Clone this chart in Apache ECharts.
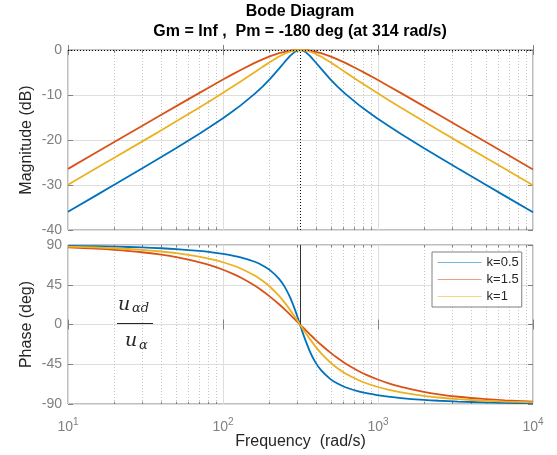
<!DOCTYPE html>
<html><head><meta charset="utf-8">
<script src="https://cdn.jsdelivr.net/npm/echarts@6/dist/echarts.min.js"></script>
<style>html,body{margin:0;padding:0;background:#fff}#c{width:557px;height:455px}</style>
</head><body><div id="c"></div>
<script>
// Frequency samples (rad/s)
const freqs = [10,15,20,30,40,50,70,85,100,115,130,160,180,200,230,250,270,290,305,314,
               323,340,365,394,429,493,548,616,758,857,986,1160,1409,1972,2465,3287,4930,6573,10000];
// Magnitude (dB)
const magK05 = [-35.95,-32.42,-29.91,-26.35,-23.79,-21.79,-18.67,-16.80,-15.16,-13.68,-12.31,-9.75,-8.12,-6.52,-4.15,-2.66,-1.36,-0.42,-0.06,0,
                -0.06,-0.42,-1.36,-2.66,-4.15,-6.52,-8.12,-9.75,-12.31,-13.68,-15.16,-16.80,-18.67,-21.79,-23.79,-26.35,-29.91,-32.42,-36.07];
const magK15 = [-26.42,-22.90,-20.40,-16.88,-14.39,-12.47,-9.58,-7.93,-6.57,-5.42,-4.44,-2.87,-2.07,-1.42,-0.71,-0.39,-0.17,-0.05,-0.01,0,
                -0.01,-0.05,-0.17,-0.39,-0.71,-1.42,-2.07,-2.87,-4.44,-5.42,-6.57,-7.93,-9.58,-12.47,-14.39,-16.88,-20.40,-22.90,-26.54];
const magK1  = [-29.93,-26.41,-23.90,-20.36,-17.83,-15.85,-12.83,-11.04,-9.52,-8.19,-7.00,-4.93,-3.75,-2.72,-1.46,-0.83,-0.38,-0.11,-0.01,0,
                -0.01,-0.11,-0.38,-0.83,-1.46,-2.72,-3.75,-4.93,-7.00,-8.19,-9.52,-11.04,-12.83,-15.85,-17.83,-20.36,-23.90,-26.41,-30.06];
// Phase (deg)
const phaseK05 = [89.09,88.63,88.17,87.24,86.30,85.33,83.31,81.69,79.95,78.06,75.97,71.01,66.88,61.81,51.68,42.60,31.22,17.66,6.64,0,
                  -6.64,-17.66,-31.22,-42.60,-51.68,-61.81,-66.88,-71.01,-75.97,-78.06,-79.95,-81.69,-83.31,-85.33,-86.30,-87.24,-88.17,-88.63,-89.10];
const phaseK15 = [87.26,85.89,84.52,81.77,79.01,76.23,70.62,66.33,62.01,57.60,53.15,44.08,37.98,31.89,22.87,17.04,11.42,6.06,2.22,0,
                  -2.22,-6.06,-11.42,-17.04,-22.87,-31.89,-37.98,-44.08,-53.15,-57.60,-62.01,-66.33,-70.62,-76.23,-79.01,-81.77,-84.52,-85.89,-87.30];
const phaseK1  = [88.17,87.26,86.34,84.49,82.62,80.72,76.80,73.72,70.48,67.07,63.45,55.46,49.51,43.02,32.32,24.70,16.86,9.05,3.33,0,
                  -3.33,-9.05,-16.86,-24.70,-32.32,-43.02,-49.51,-55.46,-63.45,-67.07,-70.48,-73.72,-76.80,-80.72,-82.62,-84.49,-86.34,-87.26,-88.20];
const seriesNames = ['k=0.5','k=1.5','k=1'];
const minorFreqs = [20,30,40,50,60,70,80,90,200,300,400,500,600,700,800,900,2000,3000,4000,5000,6000,7000,8000,9000];
const crossFreq = 314;
const titleLines = ['Bode Diagram','Gm = Inf ,  Pm = -180 deg (at 314 rad/s)'];

const colors = ['#0072BD','#D95319','#EDB120'];
const font = "'Liberation Sans', Arial, Helvetica, sans-serif";
const serifIt = "italic {s}px 'DejaVu Serif', 'Liberation Serif', serif";
const gray = '#808080';
const dark = '#262626';

const pair = (ys) => freqs.map((f, i) => [f, ys[i]]);

function xAxisCfg(grid, showLabels, pos) {
  return {
    type: 'log', logBase: 10, min: 10, max: 10000, gridIndex: grid, position: pos,
    axisLine: { show: false },
    axisTick: { show: true, inside: true, length: 5, lineStyle: { color: gray } },
    axisLabel: showLabels ? {
      show: true, margin: 13, color: gray, fontFamily: font,
      formatter: v => '{a|10}{b|' + Math.round(Math.log10(v)) + '}',
      rich: { a: { fontSize: 14, color: gray, fontFamily: font }, b: { fontSize: 10, color: gray, fontFamily: font, padding: [0, 0, 10, 0] } }
    } : { show: false },
    splitLine: pos === 'bottom' ? { show: true, lineStyle: { color: '#dedede', width: 1 } } : { show: false },
    name: (showLabels ? 'Frequency  (rad/s)' : ''), nameLocation: 'middle', nameGap: 30, nameMoveOverlap: false,
    nameTextStyle: { fontSize: 16, color: dark, fontFamily: font }
  };
}
function yAxisCfg(grid, min, max, interval, name, pos) {
  const left = pos === 'left';
  return {
    type: 'value', gridIndex: grid, min, max, interval, position: pos,
    axisLine: { show: false },
    axisTick: { show: true, inside: true, length: 5, lineStyle: { color: gray } },
    axisLabel: left ? { show: true, margin: 6, color: gray, fontSize: 14, fontFamily: font } : { show: false },
    splitLine: left ? { show: true, lineStyle: { color: '#dedede', width: 1 } } : { show: false },
    name: left ? name : '', nameLocation: 'middle', nameGap: 33, nameMoveOverlap: false,
    nameTextStyle: { fontSize: 16, color: dark, fontFamily: font }
  };
}

function gridLines(xi, yi, yMin, yMax, tickLen) {
  const data = minorFreqs.map(f => ({ xAxis: f }));
  const ticks = [];
  minorFreqs.forEach(f => {
    ticks.push([{ coord: [f, yMin] }, { coord: [f, yMin + tickLen] }]);
    ticks.push([{ coord: [f, yMax] }, { coord: [f, yMax - tickLen] }]);
  });
  return [{
    type: 'line', xAxisIndex: xi, yAxisIndex: yi, data: [], silent: true, z: 0,
    markLine: { z: 0, silent: true, symbol: ['none','none'], label: { show: false }, animation: false,
      lineStyle: { type: [1, 2], color: '#c4c4c4', width: 1 }, data }
  }, {
    type: 'line', xAxisIndex: xi, yAxisIndex: yi, data: [], silent: true, z: 0,
    markLine: { z: 0, silent: true, symbol: ['none','none'], label: { show: false }, animation: false,
      lineStyle: { type: 'solid', color: gray, width: 1 }, data: ticks }
  }];
}

const magData = [magK05, magK15, magK1];
const phaseData = [phaseK05, phaseK15, phaseK1];
const series = [];
series.push(...gridLines(0, 0, -40, 0, 0.6));
series.push(...gridLines(1, 1, -90, 90, 2.5));
seriesNames.forEach((n, i) => {
  series.push({ name: n, type: 'line', xAxisIndex: 0, yAxisIndex: 0, data: pair(magData[i]),
    symbol: 'none', smooth: false, lineStyle: { color: colors[i], width: 1.8 }, itemStyle: { color: colors[i] }, z: 3, animation: false });
});
seriesNames.forEach((n, i) => {
  series.push({ name: n, type: 'line', xAxisIndex: 1, yAxisIndex: 1, data: pair(phaseData[i]),
    symbol: 'none', smooth: 0.3, lineStyle: { color: colors[i], width: 1.8 }, itemStyle: { color: colors[i] }, z: 3, animation: false });
});
// margin markers
series.push({
  type: 'line', xAxisIndex: 0, yAxisIndex: 0, data: [], silent: true, z: 4,
  markLine: { z: 4, silent: true, symbol: ['none','none'], label: { show: false }, animation: false,
    lineStyle: { type: [1, 2], color: '#000', width: 1 }, data: [{ xAxis: crossFreq }, { yAxis: 0 }] }
});
series.push({
  type: 'line', xAxisIndex: 1, yAxisIndex: 1, data: [], silent: true, z: 4,
  markLine: { z: 4, silent: true, symbol: ['none','none'], label: { show: false }, animation: false,
    lineStyle: { type: 'solid', color: '#333', width: 1 }, data: [[{ coord: [crossFreq, 0] }, { coord: [crossFreq, 90] }]] }
});

const sf = s => serifIt.replace('{s}', s);
const chart = echarts.init(document.getElementById('c'), null, { renderer: 'canvas' });
chart.setOption({
  animation: false,
  backgroundColor: '#fff',
  title: {
    text: titleLines.join('\n'), left: 300, top: 2, padding: 0, textAlign: 'center',
    textStyle: { fontSize: 16, fontWeight: 'bold', color: '#000', fontFamily: font, lineHeight: 20 }
  },
  grid: [
    { left: 68, top: 50, width: 465, height: 180, show: true, borderColor: gray, borderWidth: 1, backgroundColor: 'transparent', outerBoundsMode: 'none' },
    { left: 68, top: 245, width: 465, height: 159, show: true, borderColor: gray, borderWidth: 1, backgroundColor: 'transparent', outerBoundsMode: 'none' }
  ],
  xAxis: [xAxisCfg(0, false, 'bottom'), xAxisCfg(1, true, 'bottom'), xAxisCfg(0, false, 'top'), xAxisCfg(1, false, 'top')],
  yAxis: [yAxisCfg(0, -40, 0, 10, 'Magnitude (dB)', 'left'), yAxisCfg(1, -90, 90, 45, 'Phase (deg)', 'left'),
          yAxisCfg(0, -40, 0, 10, '', 'right'), yAxisCfg(1, -90, 90, 45, '', 'right')],
  legend: {
    show: true, orient: 'vertical', left: 432, top: 252, padding: [4, 3, 4, 5], itemGap: 4, itemWidth: 44, itemHeight: 14,
    backgroundColor: '#fff', borderColor: gray, borderWidth: 1, borderRadius: 0, z: 10,
    textStyle: { fontSize: 13, color: dark, fontFamily: font },
    itemStyle: { opacity: 0 },
    lineStyle: { width: 1.2, opacity: 0.55 },
    data: seriesNames
  },
  graphic: [
    { type: 'text', x: 118, y: 305.5, style: { text: 'u', font: sf(19), fill: dark, verticalAlign: 'middle' } },
    { type: 'text', x: 132, y: 309, style: { text: 'αd', font: sf(13), fill: dark, verticalAlign: 'middle' } },
    { type: 'rect', shape: { x: 117, y: 323, width: 36, height: 1.5 }, style: { fill: dark } },
    { type: 'text', x: 125, y: 341.5, style: { text: 'u', font: sf(19), fill: dark, verticalAlign: 'middle' } },
    { type: 'text', x: 139, y: 346, style: { text: 'α', font: sf(13), fill: dark, verticalAlign: 'middle' } }
  ],
  series
});
</script>
</body></html>
